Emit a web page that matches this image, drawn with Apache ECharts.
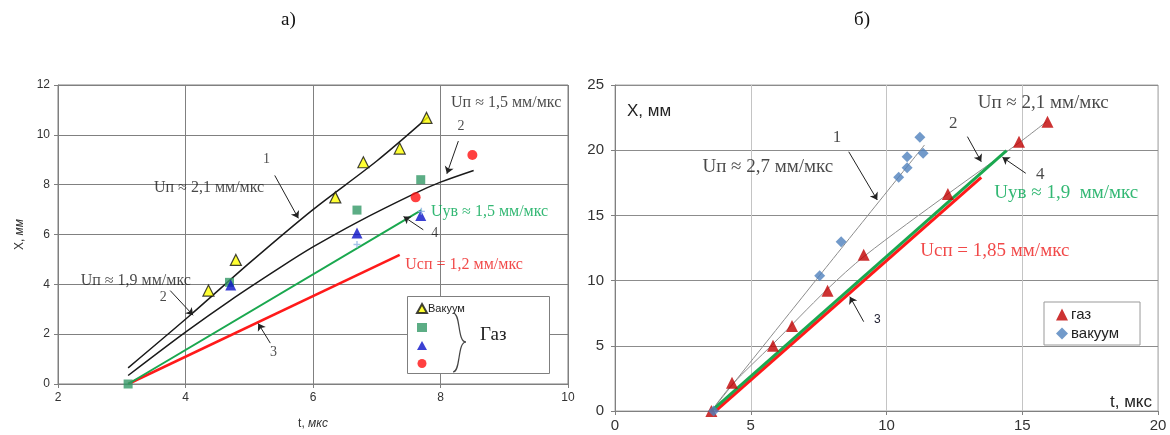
<!DOCTYPE html>
<html><head><meta charset="utf-8">
<script src="https://cdn.jsdelivr.net/npm/echarts@6/dist/echarts.min.js"></script>
<style>html,body{margin:0;padding:0;background:#fff}#c{width:1170px;height:435px}</style>
</head><body><div id="c"></div>
<script>
// ---------- Panel a) data ----------
const leftXAxis = [2, 10, 2];   // min, max, interval
const leftYAxis = [0, 12, 2];
const leftVacuum = [[4.36,3.75],[4.79,4.98],[6.35,7.49],[6.79,8.9],[7.36,9.45],[7.78,10.68]];
const leftGasSquare = [[3.1,0],[4.69,4.08],[6.69,6.98],[7.69,8.2]];
const leftGasTriangle = [[4.71,3.97],[6.69,6.06],[7.69,6.76]];
const leftGasCircle = [[7.61,7.49],[8.5,9.19]];
const leftPlus = [[6.69,5.6],[7.7,6.93]];
const leftCurve1 = [[3.1,0.65],[4.1,2.82],[5.0,4.85],[6.0,7.0],[7.0,8.95],[7.8,10.7]];
const leftCurve2 = [[3.1,0.34],[4.0,2.08],[4.7,3.35],[5.5,4.7],[6.0,5.5],[6.7,6.5],[7.6,7.65],[8.0,8.1],[8.52,8.57]];
const leftGreen = [[3.1,0],[7.7,6.98]];
const leftRed = [[3.1,0],[7.36,5.18]];

// ---------- Panel б) data ----------
const rightXAxis = [0, 20, 5];
const rightYAxis = [0, 25, 5];
const rightGas = [[3.55,0],[4.31,2.17],[5.82,5.01],[6.52,6.52],[7.83,9.23],[9.16,11.99],[12.26,16.64],[14.88,20.65],[15.93,22.19]];
const rightVacuum = [[3.63,0],[7.54,10.38],[8.33,12.98],[10.45,17.92],[10.76,18.66],[10.76,19.5],[11.35,19.76],[11.23,20.99]];
const rightCurve1 = [[3.55,0],[7.54,10.4],[11.4,20.4]];
const rightCurve2 = [[3.55,0],[4.3,2.0],[5.8,5.1],[7.8,9.3],[9.2,11.9],[12.3,16.7],[14.9,20.6],[15.9,22.2]];
const rightGreen = [[3.55,0],[14.42,19.96]];
const rightRed = [[3.7,0],[13.49,17.92]];

// ---------- annotations (text, data coords) ----------
const leftNotes = [
  ['Uп ≈ 2,1 мм/мкс', 4.37, 7.88, 'k'],
  ['1', 5.27, 9.03, 'k'],
  ['Uп ≈ 1,5 мм/мкс', 9.03, 11.3, 'k'],
  ['2', 8.32, 10.35, 'k'],
  ['Uув ≈ 1,5 мм/мкс', 8.77, 6.93, 'g'],
  ['4', 7.91, 6.06, 'k'],
  ['Uсп = 1,2 мм/мкс', 8.37, 4.78, 'r'],
  ['3', 5.38, 1.27, 'k'],
  ['Uп ≈ 1,9 мм/мкс', 3.22, 4.15, 'k'],
  ['2', 3.65, 3.49, 'k']
];
const leftArrows = [
  [[5.40,8.37],[5.77,6.65]],
  [[8.28,9.75],[8.10,8.44]],
  [[7.73,6.19],[7.42,6.72]],
  [[5.33,1.64],[5.14,2.43]],
  [[3.76,3.75],[4.12,2.76]]
];
const rightNotes = [
  ['1', 8.18, 20.99, 'k'],
  ['Uп ≈ 2,7 мм/мкс', 5.63, 18.73, 'k'],
  ['Uп ≈ 2,1 мм/мкс', 15.77, 23.64, 'k'],
  ['2', 12.46, 22.01, 'k'],
  ['4', 15.66, 18.10, 'k'],
  ['Uув ≈ 1,9  мм/мкс', 16.62, 16.69, 'g'],
  ['Uсп = 1,85 мм/мкс', 13.99, 12.29, 'r']
];
const rightArrows = [
  [[8.61,19.88],[9.66,16.18]],
  [[12.98,21.04],[13.49,19.12]],
  [[15.13,18.23],[14.27,19.46]],
  [[9.16,6.85],[8.65,8.77]]
];

const SERIF = '"Liberation Serif","DejaVu Serif",serif';
const SANS = '"Liberation Sans",Arial,sans-serif';
const noteColor = {k:'#1a1a1a', g:'#00a651', r:'#ee1c1c'};

function noteSeries(notes, gi, size) {
  return {
    type:'scatter', xAxisIndex:gi, yAxisIndex:gi, symbolSize:1, silent:true, z:10,
    itemStyle:{color:'rgba(0,0,0,0)'},
    data: notes.map(n => ({value:[n[1], n[2]], label:{show:true, position:'inside', formatter:n[0],
      color:noteColor[n[3]], fontSize: n[0].length < 3 ? size - 2 : size, fontFamily:SERIF}}))
  };
}
function arrowSeries(arr, gi) {
  return {
    type:'lines', coordinateSystem:'cartesian2d', xAxisIndex:gi, yAxisIndex:gi, silent:true, z:9,
    symbol:['none','arrow'], symbolSize:7,
    lineStyle:{color:'#222', width:1, opacity:1},
    data: arr.map(a => ({coords:a}))
  };
}
function lineSeries(data, gi, color, width, smooth) {
  return {type:'line', xAxisIndex:gi, yAxisIndex:gi, data, showSymbol:false, symbol:'none',
    smooth: smooth ? 0.3 : false, silent:true, lineStyle:{color, width}, z:3};
}

const chart = echarts.init(document.getElementById('c'), null, {renderer:'canvas'});
const option = {
  backgroundColor:'#fff',
  animation:false,
  title:[
    {text:'а)', left:276, top:6, textStyle:{fontFamily:SERIF, fontSize:19, fontWeight:'normal', color:'#111'}},
    {text:'б)', left:849, top:6, textStyle:{fontFamily:SERIF, fontSize:19, fontWeight:'normal', color:'#111'}}
  ],
  grid:[
    {left:58, top:85, width:510, height:303, show:true, borderColor:'#7f7f7f', borderWidth:1, backgroundColor:'#fff'},
    {left:615, top:85, width:543, height:326, show:true, borderColor:'#a6a6a6', borderWidth:1, backgroundColor:'#fff'}
  ],
  xAxis:[
    {type:'value', gridIndex:0, min:leftXAxis[0], max:leftXAxis[1], interval:leftXAxis[2],
     axisLine:{show:true, onZero:false, lineStyle:{color:'#7f7f7f'}},
     axisTick:{show:true, length:4, lineStyle:{color:'#7f7f7f'}},
     axisLabel:{color:'#333', fontSize:12, fontFamily:SANS, margin:8},
     splitLine:{show:true, lineStyle:{color:'#808080', width:1}},
     name:'t, {i|мкс}', nameLocation:'middle', nameGap:34,
     nameTextStyle:{color:'#333', fontSize:12, fontFamily:SANS, rich:{i:{fontStyle:'italic', fontSize:12, fontFamily:SANS, color:'#333'}}}},
    {type:'value', gridIndex:1, min:rightXAxis[0], max:rightXAxis[1], interval:rightXAxis[2],
     axisLine:{show:true, onZero:false, lineStyle:{color:'#808080'}},
     axisTick:{show:true, length:4, lineStyle:{color:'#808080'}},
     axisLabel:{color:'#333', fontSize:15, fontFamily:SANS, margin:7},
     splitLine:{show:true, lineStyle:{color:'#c4c4c4', width:1}}}
  ],
  yAxis:[
    {type:'value', gridIndex:0, min:leftYAxis[0], max:leftYAxis[1], interval:leftYAxis[2],
     axisLine:{show:true, onZero:false, lineStyle:{color:'#7f7f7f'}},
     axisTick:{show:true, length:4, lineStyle:{color:'#7f7f7f'}},
     axisLabel:{color:'#333', fontSize:12, fontFamily:SANS, margin:8},
     splitLine:{show:true, lineStyle:{color:'#808080', width:1}},
     name:'X, {i|мм}', nameLocation:'middle', nameGap:32, nameRotate:90,
     nameTextStyle:{color:'#333', fontSize:12, fontFamily:SANS, rich:{i:{fontStyle:'italic', fontSize:12, fontFamily:SANS, color:'#333'}}}},
    {type:'value', gridIndex:1, min:rightYAxis[0], max:rightYAxis[1], interval:rightYAxis[2],
     axisLine:{show:true, onZero:false, lineStyle:{color:'#808080'}},
     axisTick:{show:true, length:4, lineStyle:{color:'#808080'}},
     axisLabel:{color:'#333', fontSize:15, fontFamily:SANS, margin:11},
     splitLine:{show:true, lineStyle:{color:'#8c8c8c', width:1}}}
  ],
  legend:[
    {show:true, orient:'vertical', left:411, top:298, itemWidth:10, itemHeight:9, itemGap:9, z:20,
     data:['Вакуум','Газ-1','Газ-2','Газ-3'],
     formatter: n => n === 'Вакуум' ? 'Вакуум' : '',
     textStyle:{fontFamily:SANS, fontSize:11, color:'#222', padding:[0,0,0,-4]}, selectedMode:false},
    {show:true, orient:'vertical', left:1044, top:302, itemWidth:12, itemHeight:12, itemGap:4, z:20,
     padding:[5,21,4,12], borderColor:'#999', borderWidth:1, backgroundColor:'#fff',
     data:['газ','вакуум'],
     textStyle:{fontFamily:SANS, fontSize:15, color:'#222', padding:[0,0,0,-2]}, selectedMode:false}
  ],
  graphic:[
    {type:'rect', shape:{x:407.5, y:296.5, width:142, height:77}, style:{fill:'#fff', stroke:'#7f7f7f', lineWidth:1}, z:2, silent:true},
    {type:'bezierCurve', shape:{x1:453, y1:313, cpx1:461, cpy1:313, cpx2:457, cpy2:342, x2:466, y2:342},
     style:{fill:'none', stroke:'#444', lineWidth:1.2}, z:21, silent:true},
    {type:'bezierCurve', shape:{x1:466, y1:342, cpx1:457, cpy1:342, cpx2:461, cpy2:372, x2:453, y2:372},
     style:{fill:'none', stroke:'#444', lineWidth:1.2}, z:21, silent:true},
    {type:'text', left:480, top:326, style:{text:'Газ', font:'19px "Liberation Serif", serif', fill:'#222'}, z:21, silent:true},
    {type:'text', left:627, top:103, style:{text:'X, мм', font:'17px "Liberation Sans", Arial, sans-serif', fill:'#222'}, z:21, silent:true},
    {type:'text', left:1110, top:394, style:{text:'t, мкс', font:'17px "Liberation Sans", Arial, sans-serif', fill:'#222'}, z:21, silent:true},
    {type:'text', left:874, top:314, style:{text:'3', font:'12px "Liberation Sans", Arial, sans-serif', fill:'#223'}, z:21, silent:true}
  ],
  series:[
    lineSeries(leftRed, 0, '#ff1a1a', 2.5, false),
    lineSeries(leftGreen, 0, '#1aa84f', 2, false),
    lineSeries(leftCurve1, 0, '#1a1a1a', 1.5, true),
    lineSeries(leftCurve2, 0, '#1a1a1a', 1.5, true),
    {name:'Вакуум', type:'scatter', xAxisIndex:0, yAxisIndex:0, data:leftVacuum, symbol:'triangle', symbolSize:11,
     itemStyle:{color:'#ffff00', borderColor:'#111', borderWidth:1.2}, z:6},
    {name:'Газ-1', type:'scatter', xAxisIndex:0, yAxisIndex:0, data:leftGasSquare, symbol:'rect', symbolSize:9,
     itemStyle:{color:'#339966'}, z:6},
    {name:'Газ-2', type:'scatter', xAxisIndex:0, yAxisIndex:0, data:leftGasTriangle, symbol:'triangle', symbolSize:11,
     itemStyle:{color:'#0a10c8'}, z:6},
    {name:'Газ-3', type:'scatter', xAxisIndex:0, yAxisIndex:0, data:leftGasCircle, symbol:'circle', symbolSize:10,
     itemStyle:{color:'#ff1010'}, z:6},
    {name:'plus', type:'scatter', xAxisIndex:0, yAxisIndex:0, data:leftPlus,
     symbol:'path://M4,0H6V4H10V6H6V10H4V6H0V4H4Z', symbolSize:7, itemStyle:{color:'#8fb4e3'}, z:6},
    arrowSeries(leftArrows, 0),
    noteSeries(leftNotes, 0, 16),
    lineSeries(rightCurve1, 1, '#8c8c8c', 1, true),
    lineSeries(rightCurve2, 1, '#8c8c8c', 1, true),
    lineSeries(rightRed, 1, '#ff1a1a', 3, false),
    lineSeries(rightGreen, 1, '#1aa84f', 3, false),
    {name:'газ', type:'scatter', xAxisIndex:1, yAxisIndex:1, data:rightGas, symbol:'triangle', symbolSize:12,
     itemStyle:{color:'#c00000'}, z:6},
    {name:'вакуум', type:'scatter', xAxisIndex:1, yAxisIndex:1, data:rightVacuum, symbol:'diamond', symbolSize:11,
     itemStyle:{color:'#4f81bd'}, z:6},
    arrowSeries(rightArrows, 1),
    noteSeries(rightNotes, 1, 19)
  ]
};
chart.setOption(option);
</script></body></html>
